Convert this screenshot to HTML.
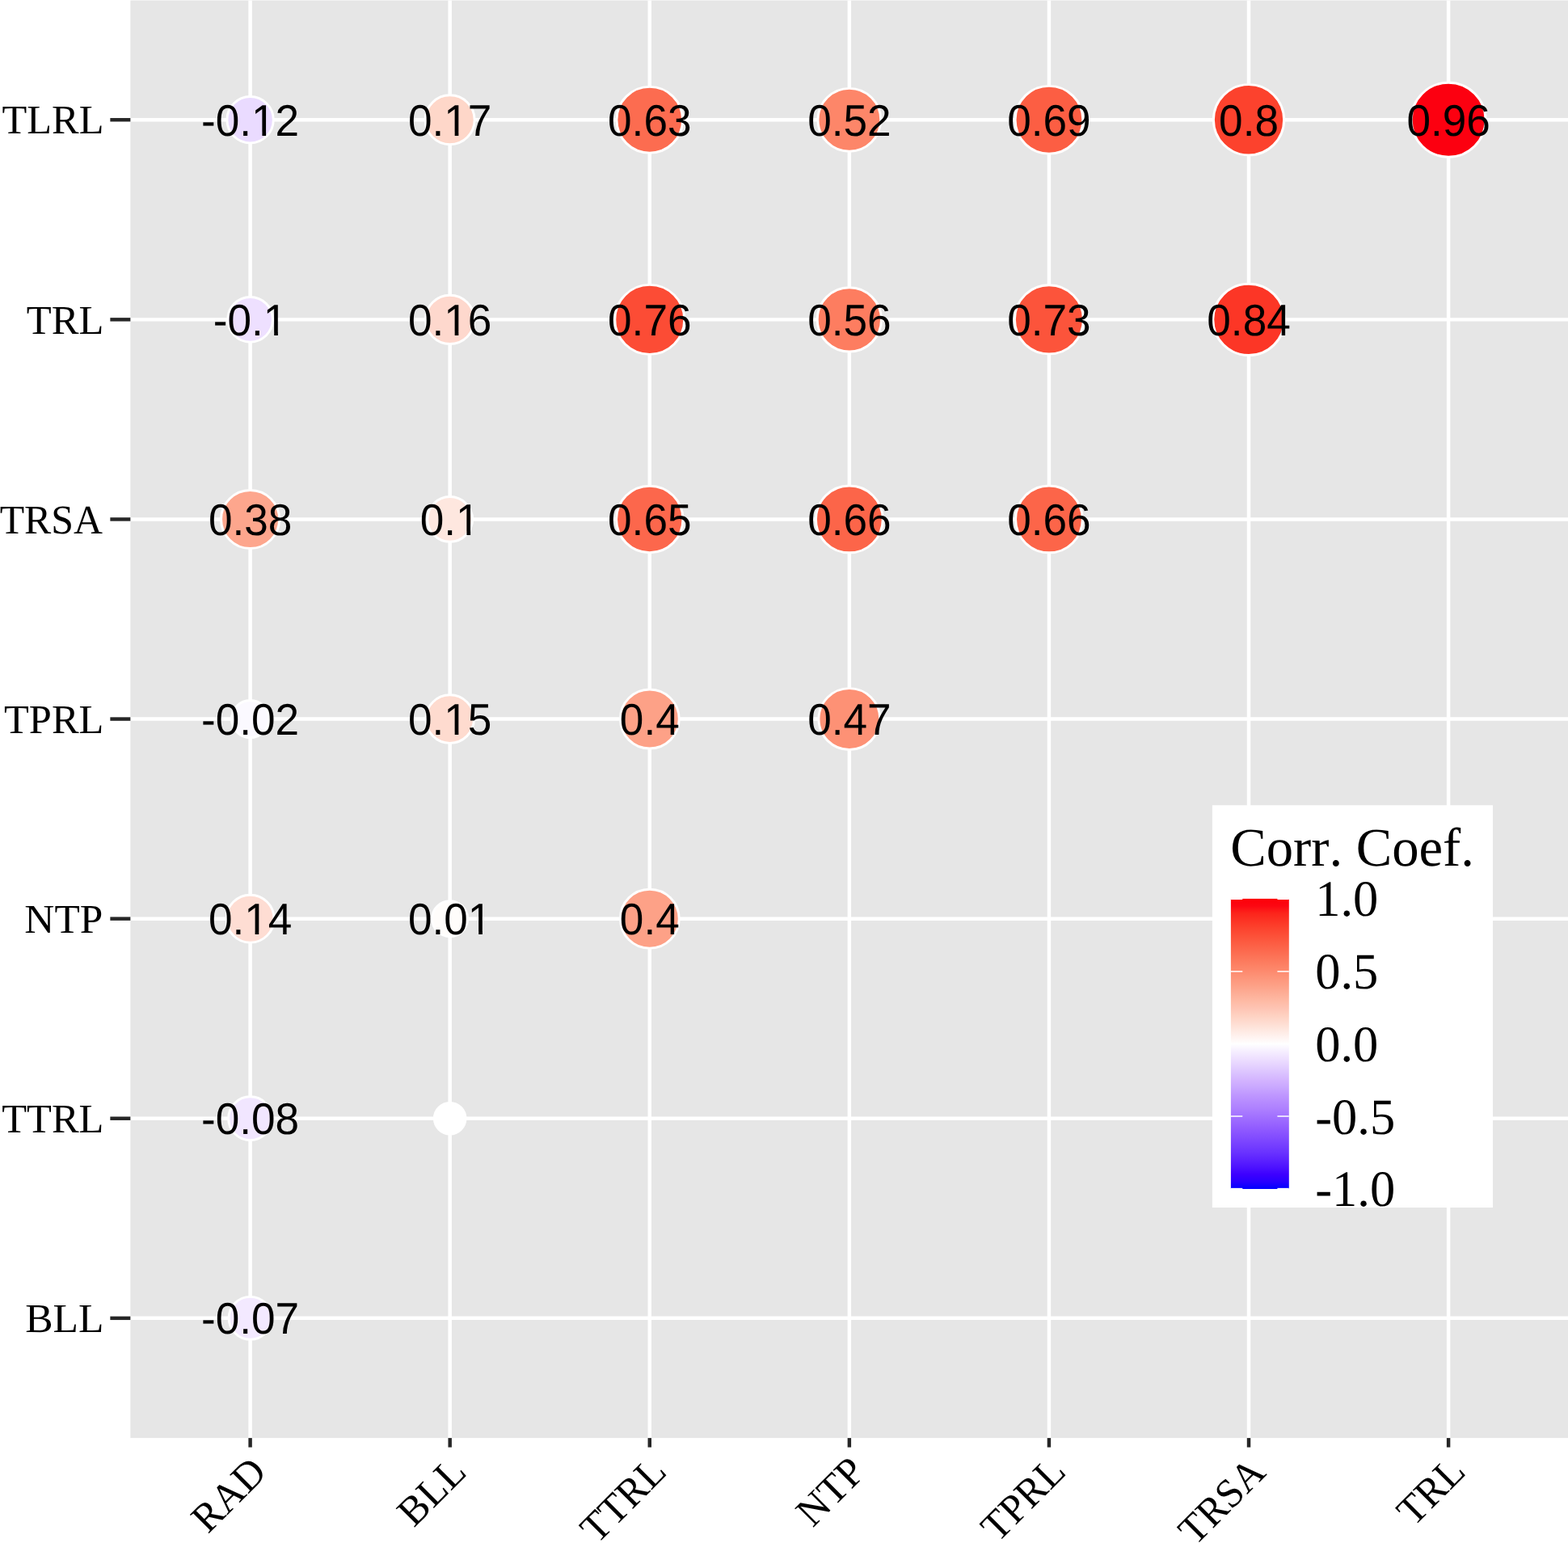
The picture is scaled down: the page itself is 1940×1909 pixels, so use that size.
<!DOCTYPE html>
<html lang="en"><head><meta charset="utf-8"><title>Correlation plot</title>
<style>
html,body{margin:0;padding:0;background:#FFFFFF;}
body{width:1940px;height:1909px;overflow:hidden;}
svg{display:block;}
text{font-kerning:none;text-rendering:geometricPrecision;}
.lab{font-family:"Liberation Sans",sans-serif;font-size:53.35px;fill:#000;text-anchor:middle;}
.ax{font-family:"Liberation Serif",serif;font-size:50px;fill:#000;}
.lt{font-family:"Liberation Serif",serif;font-size:66.67px;fill:#000;}
.ll{font-family:"Liberation Serif",serif;font-size:62.5px;fill:#000;}
</style></head><body>
<svg width="1940" height="1909" viewBox="0 0 1940 1909">
<rect x="0" y="0" width="1940" height="1909" fill="#FFFFFF"/>
<rect x="161.35" y="0.50" width="1779.00" height="1778.60" fill="#E6E6E6"/>
<g stroke="#FFFFFF" stroke-width="4.45" fill="none">
<line x1="161.35" y1="148.26" x2="1940.35" y2="148.26"/>
<line x1="161.35" y1="395.36" x2="1940.35" y2="395.36"/>
<line x1="161.35" y1="642.45" x2="1940.35" y2="642.45"/>
<line x1="161.35" y1="889.55" x2="1940.35" y2="889.55"/>
<line x1="161.35" y1="1136.65" x2="1940.35" y2="1136.65"/>
<line x1="161.35" y1="1383.74" x2="1940.35" y2="1383.74"/>
<line x1="161.35" y1="1630.84" x2="1940.35" y2="1630.84"/>
<line x1="309.60" y1="0.50" x2="309.60" y2="1779.10"/>
<line x1="556.68" y1="0.50" x2="556.68" y2="1779.10"/>
<line x1="803.77" y1="0.50" x2="803.77" y2="1779.10"/>
<line x1="1050.85" y1="0.50" x2="1050.85" y2="1779.10"/>
<line x1="1297.93" y1="0.50" x2="1297.93" y2="1779.10"/>
<line x1="1545.02" y1="0.50" x2="1545.02" y2="1779.10"/>
<line x1="1792.10" y1="0.50" x2="1792.10" y2="1779.10"/>
</g>
<g stroke="#FFFFFF" stroke-width="2.95">
<circle cx="309.60" cy="148.26" r="28.69" fill="#EADBFF"/>
<circle cx="556.68" cy="148.26" r="30.48" fill="#FED7C9"/>
<circle cx="803.77" cy="148.26" r="40.87" fill="#FC6C50"/>
<circle cx="1050.85" cy="148.26" r="38.89" fill="#FD8669"/>
<circle cx="1297.93" cy="148.26" r="41.87" fill="#FC5E43"/>
<circle cx="1545.02" cy="148.26" r="43.61" fill="#FC422D"/>
<circle cx="1792.10" cy="148.26" r="45.93" fill="#FC0010"/>
<circle cx="309.60" cy="395.36" r="27.87" fill="#EEE0FF"/>
<circle cx="556.68" cy="395.36" r="30.15" fill="#FED8CD"/>
<circle cx="803.77" cy="395.36" r="42.99" fill="#FC4C35"/>
<circle cx="1050.85" cy="395.36" r="39.63" fill="#FD7D60"/>
<circle cx="1297.93" cy="395.36" r="42.52" fill="#FC543B"/>
<circle cx="1545.02" cy="395.36" r="44.21" fill="#FC3626"/>
<circle cx="309.60" cy="642.45" r="36.04" fill="#FDA68D"/>
<circle cx="556.68" cy="642.45" r="27.87" fill="#FEE7DF"/>
<circle cx="803.77" cy="642.45" r="41.21" fill="#FC674C"/>
<circle cx="1050.85" cy="642.45" r="41.38" fill="#FC6549"/>
<circle cx="1297.93" cy="642.45" r="41.38" fill="#FC6549"/>
<circle cx="309.60" cy="889.55" r="23.11" fill="#FBF9FF"/>
<circle cx="556.68" cy="889.55" r="29.80" fill="#FEDBCF"/>
<circle cx="803.77" cy="889.55" r="36.48" fill="#FDA187"/>
<circle cx="1050.85" cy="889.55" r="37.92" fill="#FD9175"/>
<circle cx="309.60" cy="1136.65" r="29.45" fill="#FEDDD3"/>
<circle cx="556.68" cy="1136.65" r="21.98" fill="#FFFDFB"/>
<circle cx="803.77" cy="1136.65" r="36.48" fill="#FDA187"/>
<circle cx="309.60" cy="1383.74" r="26.96" fill="#F1E6FF"/>
<circle cx="556.68" cy="1383.74" r="19.26" fill="#FFFFFF"/>
<circle cx="309.60" cy="1630.84" r="26.46" fill="#F3E9FF"/>
</g>
<defs>
<clipPath id="k0" clipPathUnits="userSpaceOnUse"><path clip-rule="evenodd" d="M-120 -60H120V30H-120ZM4.06 -4.09H14.88V1.00H4.06ZM19.59 -4.09H29.98V1.00H19.59Z"/></clipPath>
<clipPath id="k1" clipPathUnits="userSpaceOnUse"><path clip-rule="evenodd" d="M-120 -60H120V30H-120ZM-4.82 -4.09H6.00V1.00H-4.82ZM10.71 -4.09H21.10V1.00H10.71Z"/></clipPath>
<clipPath id="k2" clipPathUnits="userSpaceOnUse"><path clip-rule="evenodd" d="M-120 -60H120V30H-120ZM18.89 -4.09H29.71V1.00H18.89ZM34.42 -4.09H44.81V1.00H34.42Z"/></clipPath>
<clipPath id="k3" clipPathUnits="userSpaceOnUse"><path clip-rule="evenodd" d="M-120 -60H120V30H-120ZM10.01 -4.09H20.83V1.00H10.01ZM25.54 -4.09H35.93V1.00H25.54Z"/></clipPath>
<clipPath id="k4" clipPathUnits="userSpaceOnUse"><path clip-rule="evenodd" d="M-120 -60H120V30H-120ZM24.85 -4.09H35.67V1.00H24.85ZM40.38 -4.09H50.77V1.00H40.38Z"/></clipPath>
</defs>
<g class="lab">
<text transform="translate(309.60 167.86) scale(0.9960 1.0250)" clip-path="url(#k0)">-0.12</text>
<text transform="translate(556.68 167.86) scale(0.9960 1.0250)" clip-path="url(#k1)">0.17</text>
<text transform="translate(803.77 167.86) scale(0.9960 1.0250)">0.63</text>
<text transform="translate(1050.85 167.86) scale(0.9960 1.0250)">0.52</text>
<text transform="translate(1297.93 167.86) scale(0.9960 1.0250)">0.69</text>
<text transform="translate(1545.02 167.86) scale(0.9960 1.0250)">0.8</text>
<text transform="translate(1792.10 167.86) scale(0.9960 1.0250)">0.96</text>
<text transform="translate(309.60 414.96) scale(0.9960 1.0250)" clip-path="url(#k2)">-0.1</text>
<text transform="translate(556.68 414.96) scale(0.9960 1.0250)" clip-path="url(#k1)">0.16</text>
<text transform="translate(803.77 414.96) scale(0.9960 1.0250)">0.76</text>
<text transform="translate(1050.85 414.96) scale(0.9960 1.0250)">0.56</text>
<text transform="translate(1297.93 414.96) scale(0.9960 1.0250)">0.73</text>
<text transform="translate(1545.02 414.96) scale(0.9960 1.0250)">0.84</text>
<text transform="translate(309.60 662.05) scale(0.9960 1.0250)">0.38</text>
<text transform="translate(556.68 662.05) scale(0.9960 1.0250)" clip-path="url(#k3)">0.1</text>
<text transform="translate(803.77 662.05) scale(0.9960 1.0250)">0.65</text>
<text transform="translate(1050.85 662.05) scale(0.9960 1.0250)">0.66</text>
<text transform="translate(1297.93 662.05) scale(0.9960 1.0250)">0.66</text>
<text transform="translate(309.60 909.15) scale(0.9960 1.0250)">-0.02</text>
<text transform="translate(556.68 909.15) scale(0.9960 1.0250)" clip-path="url(#k1)">0.15</text>
<text transform="translate(803.77 909.15) scale(0.9960 1.0250)">0.4</text>
<text transform="translate(1050.85 909.15) scale(0.9960 1.0250)">0.47</text>
<text transform="translate(309.60 1156.25) scale(0.9960 1.0250)" clip-path="url(#k1)">0.14</text>
<text transform="translate(556.68 1156.25) scale(0.9960 1.0250)" clip-path="url(#k4)">0.01</text>
<text transform="translate(803.77 1156.25) scale(0.9960 1.0250)">0.4</text>
<text transform="translate(309.60 1403.34) scale(0.9960 1.0250)">-0.08</text>
<text transform="translate(309.60 1650.44) scale(0.9960 1.0250)">-0.07</text>
</g>
<g stroke="#262626" stroke-width="4.45" fill="none">
<line x1="136.35" y1="148.26" x2="161.35" y2="148.26"/>
<line x1="136.35" y1="395.36" x2="161.35" y2="395.36"/>
<line x1="136.35" y1="642.45" x2="161.35" y2="642.45"/>
<line x1="136.35" y1="889.55" x2="161.35" y2="889.55"/>
<line x1="136.35" y1="1136.65" x2="161.35" y2="1136.65"/>
<line x1="136.35" y1="1383.74" x2="161.35" y2="1383.74"/>
<line x1="136.35" y1="1630.84" x2="161.35" y2="1630.84"/>
<line x1="309.60" y1="1779.10" x2="309.60" y2="1790.60"/>
<line x1="556.68" y1="1779.10" x2="556.68" y2="1790.60"/>
<line x1="803.77" y1="1779.10" x2="803.77" y2="1790.60"/>
<line x1="1050.85" y1="1779.10" x2="1050.85" y2="1790.60"/>
<line x1="1297.93" y1="1779.10" x2="1297.93" y2="1790.60"/>
<line x1="1545.02" y1="1779.10" x2="1545.02" y2="1790.60"/>
<line x1="1792.10" y1="1779.10" x2="1792.10" y2="1790.60"/>
</g>
<g class="ax" text-anchor="end">
<text transform="translate(128.40 165.20) scale(1.0070 1.0110)">TLRL</text>
<text transform="translate(128.40 413.20) scale(1.0120 1.0110)">TRL</text>
<text transform="translate(127.00 660.25) scale(0.9960 1.0110)">TRSA</text>
<text transform="translate(128.40 907.30) scale(1.0090 1.0110)">TPRL</text>
<text transform="translate(127.20 1154.25) scale(1.0250 1.0110)">NTP</text>
<text transform="translate(128.40 1401.25) scale(1.0095 1.0110)">TTRL</text>
<text transform="translate(128.40 1648.25) scale(1.0300 1.0110)">BLL</text>
</g>
<g class="ax" text-anchor="end">
<text transform="translate(308.55 1800.35) rotate(-45) translate(0 33.10) scale(1.0000 1.0110)">RAD</text>
<text transform="translate(556.03 1799.95) rotate(-45) translate(0 33.10) scale(1.0100 1.0110)">BLL</text>
<text transform="translate(803.52 1799.55) rotate(-45) translate(0 33.10) scale(1.0000 1.0110)">TTRL</text>
<text transform="translate(1049.50 1799.95) rotate(-45) translate(0 33.10) scale(1.0100 1.0110)">NTP</text>
<text transform="translate(1297.38 1799.55) rotate(-45) translate(0 33.10) scale(1.0000 1.0110)">TPRL</text>
<text transform="translate(1544.57 1800.55) rotate(-45) translate(0 33.10) scale(0.9900 1.0110)">TRSA</text>
<text transform="translate(1792.05 1799.45) rotate(-45) translate(0 33.10) scale(1.0000 1.0110)">TRL</text>
</g>
<rect x="1499.90" y="996.25" width="347.10" height="497.75" fill="#FFFFFF"/>
<defs><linearGradient id="cb" x1="0" y1="0" x2="0" y2="1">
<stop offset="0.0000" stop-color="#FC0008"/>
<stop offset="0.0250" stop-color="#FC0712"/>
<stop offset="0.0500" stop-color="#FC241B"/>
<stop offset="0.0750" stop-color="#FC3324"/>
<stop offset="0.1000" stop-color="#FC422D"/>
<stop offset="0.1250" stop-color="#FC4F37"/>
<stop offset="0.1500" stop-color="#FC5B41"/>
<stop offset="0.1750" stop-color="#FC674C"/>
<stop offset="0.2000" stop-color="#FC7357"/>
<stop offset="0.2250" stop-color="#FD7F62"/>
<stop offset="0.2500" stop-color="#FD8A6E"/>
<stop offset="0.2750" stop-color="#FD967B"/>
<stop offset="0.3000" stop-color="#FDA187"/>
<stop offset="0.3250" stop-color="#FDAD96"/>
<stop offset="0.3500" stop-color="#FEB9A3"/>
<stop offset="0.3750" stop-color="#FEC3B2"/>
<stop offset="0.4000" stop-color="#FED0C0"/>
<stop offset="0.4250" stop-color="#FEDBCF"/>
<stop offset="0.4500" stop-color="#FEE7DF"/>
<stop offset="0.4750" stop-color="#FFF2EF"/>
<stop offset="0.5000" stop-color="#FFFFFF"/>
<stop offset="0.5250" stop-color="#F6EFFF"/>
<stop offset="0.5500" stop-color="#EEE0FF"/>
<stop offset="0.5750" stop-color="#E5D2FF"/>
<stop offset="0.6000" stop-color="#DBC3FF"/>
<stop offset="0.6250" stop-color="#D3B4FF"/>
<stop offset="0.6500" stop-color="#C9A7FF"/>
<stop offset="0.6750" stop-color="#BF98FF"/>
<stop offset="0.7000" stop-color="#B68BFF"/>
<stop offset="0.7250" stop-color="#AD7FFF"/>
<stop offset="0.7500" stop-color="#A271FF"/>
<stop offset="0.7750" stop-color="#9864FF"/>
<stop offset="0.8000" stop-color="#8D57FF"/>
<stop offset="0.8250" stop-color="#814BFF"/>
<stop offset="0.8500" stop-color="#753EFF"/>
<stop offset="0.8750" stop-color="#6932FF"/>
<stop offset="0.9000" stop-color="#5C22FF"/>
<stop offset="0.9250" stop-color="#4D12FF"/>
<stop offset="0.9500" stop-color="#3D00FF"/>
<stop offset="0.9750" stop-color="#2800FF"/>
<stop offset="1.0000" stop-color="#0000FF"/>
</linearGradient></defs>
<rect x="1522.90" y="1111.90" width="71.90" height="359.10" fill="url(#cb)"/>
<g stroke="#FFFFFF" stroke-width="1.5" fill="none">
<line x1="1522.90" y1="1112.30" x2="1537.28" y2="1112.30"/>
<line x1="1580.42" y1="1112.30" x2="1594.80" y2="1112.30"/>
<line x1="1522.90" y1="1201.88" x2="1537.28" y2="1201.88"/>
<line x1="1580.42" y1="1201.88" x2="1594.80" y2="1201.88"/>
<line x1="1522.90" y1="1291.45" x2="1537.28" y2="1291.45"/>
<line x1="1580.42" y1="1291.45" x2="1594.80" y2="1291.45"/>
<line x1="1522.90" y1="1381.03" x2="1537.28" y2="1381.03"/>
<line x1="1580.42" y1="1381.03" x2="1594.80" y2="1381.03"/>
<line x1="1522.90" y1="1470.60" x2="1537.28" y2="1470.60"/>
<line x1="1580.42" y1="1470.60" x2="1594.80" y2="1470.60"/>
</g>
<text class="lt" transform="translate(1522.20 1071.40) scale(1 1.0110)">Corr. Coef.</text>
<g class="ll">
<text transform="translate(1627.20 1133.20) scale(1 1.0110)">1.0</text>
<text transform="translate(1627.20 1223.00) scale(1 1.0110)">0.5</text>
<text transform="translate(1627.20 1312.80) scale(1 1.0110)">0.0</text>
<text transform="translate(1627.20 1402.60) scale(1 1.0110)">-0.5</text>
<text transform="translate(1627.20 1492.40) scale(1 1.0110)">-1.0</text>
</g>
</svg>
</body></html>
